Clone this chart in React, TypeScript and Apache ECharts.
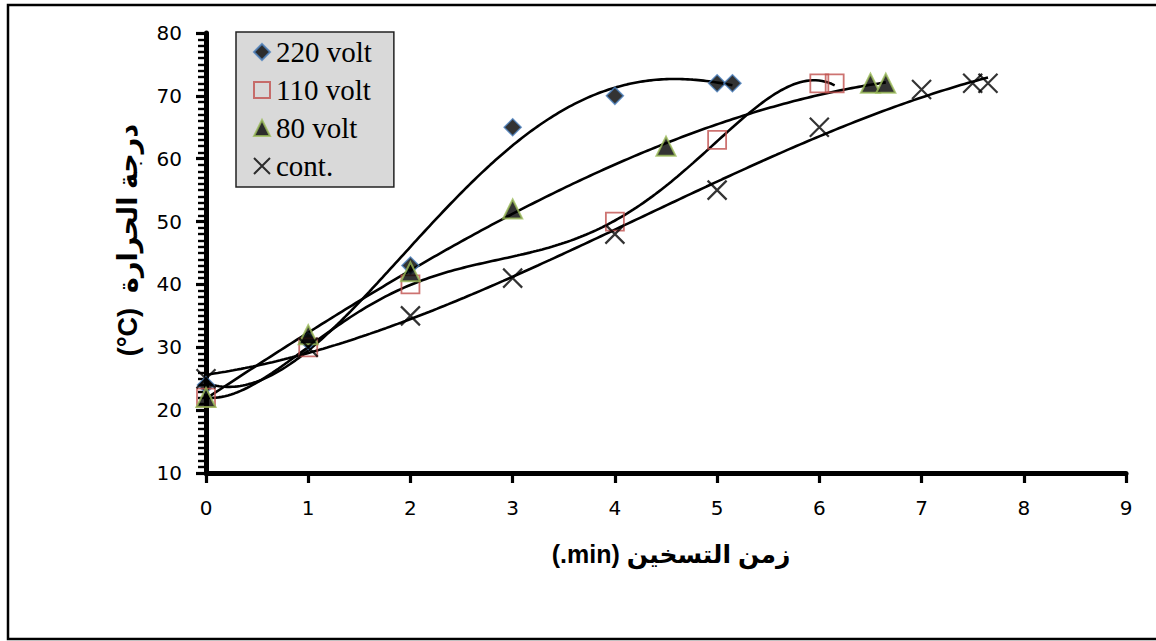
import React, { useEffect, useRef } from "react";
import * as echarts from "echarts";

// ---- data ----
const x220 = [0, 1, 2, 3, 4, 5, 5.15];
const y220 = [24, 31, 43, 65, 70, 72, 72];
const x110 = [0, 1, 2, 4, 5, 6, 6.15];
const y110 = [22, 30, 40, 50, 63, 72, 72];
const x80 = [0, 1, 2, 3, 4.5, 6.5, 6.65];
const y80 = [22, 32, 42, 52, 62, 72, 72];
const xCont = [0, 1, 2, 3, 4, 5, 6, 7, 7.5, 7.65];
const yCont = [25, 30, 35, 41, 48, 55, 65, 71, 72, 72];
const seriesNames = ["220 volt", "110 volt", "80 volt", "cont."];
const trendOrders = [4, 5, 3, 3];
const xTitle = "(.min) زمن التسخين";
const yTitle = "(°C)  درجة الحرارة";

function polyFit(xs: number[], ys: number[], order: number): number[] {
  const n = order + 1;
  const A: number[][] = [];
  for (let i = 0; i < n; i++) {
    const row: number[] = [];
    for (let j = 0; j < n; j++) {
      let s = 0;
      for (const x of xs) s += Math.pow(x, i + j);
      row.push(s);
    }
    let b = 0;
    xs.forEach((x, k) => (b += ys[k] * Math.pow(x, i)));
    row.push(b);
    A.push(row);
  }
  for (let c = 0; c < n; c++) {
    let p = c;
    for (let r = c + 1; r < n; r++) if (Math.abs(A[r][c]) > Math.abs(A[p][c])) p = r;
    [A[c], A[p]] = [A[p], A[c]];
    for (let r = 0; r < n; r++) {
      if (r === c) continue;
      const f = A[r][c] / A[c][c];
      for (let k = c; k <= n; k++) A[r][k] -= f * A[c][k];
    }
  }
  return A.map((row, i) => row[n] / row[i]);
}

function trend(xs: number[], ys: number[], order: number): number[][] {
  const coef = polyFit(xs, ys, order);
  const xmax = Math.max(...xs);
  const out: number[][] = [];
  const steps = 200;
  for (let i = 0; i <= steps; i++) {
    const x = (xmax * i) / steps;
    let y = 0;
    coef.forEach((c, k) => (y += c * Math.pow(x, k)));
    out.push([x, y]);
  }
  return out;
}

const zip = (a: number[], b: number[]) => a.map((v, i) => [v, b[i]]);

export default function App() {
  const ref = useRef<HTMLDivElement>(null);
  useEffect(() => {
    if (!ref.current) return;
    const chart = echarts.init(ref.current, undefined, { renderer: "svg" });
    const xsAll = [x220, x110, x80, xCont];
    const ysAll = [y220, y110, y80, yCont];
    const markerStyles: any[] = [
      { symbol: "diamond", symbolSize: 17, itemStyle: { color: "#000", borderColor: "#4a7ebb", borderWidth: 1.5 } },
      { symbol: "rect", symbolSize: 18, itemStyle: { color: "rgba(0,0,0,0)", borderColor: "#c0504d", borderWidth: 1.8 } },
      { symbol: "triangle", symbolSize: 19, itemStyle: { color: "#000", borderColor: "#9bbb59", borderWidth: 2 } },
      { symbol: "path://M0 0L10 10M10 0L0 10", symbolSize: 19, itemStyle: { color: "#000", borderColor: "#000", borderWidth: 2.2 } },
    ];
    const trendSeries = xsAll.map((xs, i) => ({
      type: "line",
      name: seriesNames[i] + " trend",
      data: trend(xs, ysAll[i], trendOrders[i]),
      showSymbol: false,
      symbol: "none",
      lineStyle: { color: "#000", width: 2.6 },
      silent: true,
      z: 2,
    }));
    const scatterSeries = xsAll.map((xs, i) => ({
      type: "scatter",
      name: seriesNames[i],
      data: zip(xs, ysAll[i]),
      z: 3,
      ...markerStyles[i],
    }));
    const labelFont = { fontFamily: "'DejaVu Sans', sans-serif", fontSize: 20, color: "#000" };
    chart.setOption({
      animation: false,
      backgroundColor: "#fff",
      grid: { left: 206, right: 30, top: 33, bottom: 168 },
      xAxis: {
        type: "value",
        min: 0,
        max: 9,
        interval: 1,
        axisLine: { show: true, lineStyle: { color: "#000", width: 5 } },
        axisTick: { show: true, inside: false, length: 10, lineStyle: { color: "#000", width: 3.2 } },
        axisLabel: { ...labelFont, margin: 25 },
        splitLine: { show: false },
      },
      yAxis: {
        type: "value",
        min: 10,
        max: 80,
        interval: 10,
        axisLine: { show: true, onZero: false, lineStyle: { color: "#000", width: 5 } },
        axisTick: { show: true, inside: false, length: 10, lineStyle: { color: "#000", width: 3.2 } },
        minorTick: { show: true, splitNumber: 10, length: 8, lineStyle: { color: "#000", width: 2.4 } },
        axisLabel: { ...labelFont, margin: 24 },
        splitLine: { show: false },
      },
      legend: {
        data: seriesNames,
        orient: "vertical",
        left: 236,
        top: 32,
        backgroundColor: "#d9d9d9",
        borderColor: "#222",
        borderWidth: 1.5,
        borderRadius: 0,
        padding: [5, 22, 6, 17],
        itemGap: 8,
        itemWidth: 16,
        itemHeight: 16,
        textStyle: { fontFamily: "'Liberation Serif', 'Times New Roman', serif", fontSize: 29, color: "#000", lineHeight: 30, padding: [0, 0, 0, 1] },
      },
      graphic: [
        {
          type: "rect",
          shape: { x: 8, y: 5, width: 1160, height: 634 },
          style: { fill: "none", stroke: "#000", lineWidth: 2.5 },
          silent: true,
        },
        {
          type: "text",
          x: 671,
          y: 554,
          style: {
            text: xTitle,
            fontFamily: "'Liberation Sans', 'DejaVu Sans', sans-serif",
            fontWeight: "bold",
            fontSize: 25,
            fill: "#000",
            align: "center",
            verticalAlign: "middle",
          },
        },
        {
          type: "text",
          x: 128,
          y: 240,
          rotation: Math.PI / 2,
          style: {
            text: yTitle,
            fontFamily: "'Liberation Sans', 'DejaVu Sans', sans-serif",
            fontWeight: "bold",
            fontSize: 27,
            fill: "#000",
            align: "center",
            verticalAlign: "middle",
          },
        },
      ],
      series: [...trendSeries, ...scatterSeries],
    });
    return () => chart.dispose();
  }, []);
  return <div ref={ref} style={{ position: "fixed", left: 0, top: 0, width: 1156, height: 641 }} />;
}
